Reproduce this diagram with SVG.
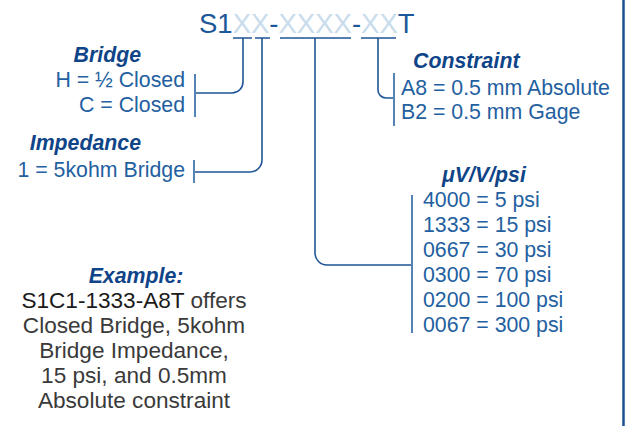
<svg xmlns="http://www.w3.org/2000/svg" width="628" height="426" viewBox="0 0 628 426">
  <style>
    text { font-family: "Liberation Sans", Arial, sans-serif; }
    .title { font-size: 27.5px; fill: #1b5899; }
    .ph { fill: #c9dcec; }
    .hd { font-size: 21.3px; font-weight: bold; font-style: italic; fill: #0f4588; }
    .bd { font-size: 21.3px; fill: #23609f; }
    .ex { font-size: 22.6px; fill: #3a3a3a; text-anchor: middle; }
    .code { fill: #1a1a1a; }
    .conn { fill: none; stroke: #1e5596; stroke-width: 1.6; }
    .brk { fill: none; stroke: #5683b6; stroke-width: 2; }
  </style>
  <rect width="628" height="426" fill="#ffffff"/>

  <g id="title">
    <text class="title" x="199" y="33">S1<tspan class="ph">XX</tspan>-<tspan class="ph">XXXX</tspan>-<tspan class="ph">XX</tspan>T</text>
  </g>

  <g id="connectors">
    <path class="conn" d="M233,38 H252 M255,38 H270 M280,38 H351 M361,38 H396"/>
    <path class="conn" d="M243,38 V82 A11,11 0 0 1 232,93 H195"/>
    <path class="conn" d="M262,38 V160 A12,12 0 0 1 250,172 H194"/>
    <path class="conn" d="M315,38 V253 A12,12 0 0 0 327,265 H412"/>
    <path class="conn" d="M378,38 V90 A8,8 0 0 0 386,98 H394"/>
  </g>

  <g id="bridge">
    <line class="brk" x1="195" y1="74" x2="195" y2="117"/>
    <text class="hd" x="141" y="62" text-anchor="end">Bridge</text>
    <text class="bd" x="185" y="87" text-anchor="end">H = ½ Closed</text>
    <text class="bd" x="185" y="111.5" text-anchor="end">C = Closed</text>
  </g>

  <g id="impedance">
    <line class="brk" x1="194" y1="160" x2="194" y2="183"/>
    <text class="hd" x="141" y="150" text-anchor="end">Impedance</text>
    <text class="bd" x="185" y="177" text-anchor="end">1 = 5kohm Bridge</text>
  </g>

  <g id="constraint">
    <line class="brk" x1="394" y1="73" x2="394" y2="126"/>
    <text class="hd" x="413" y="68">Constraint</text>
    <text class="bd" x="401" y="95">A8 = 0.5 mm Absolute</text>
    <text class="bd" x="401" y="118.5">B2 = 0.5 mm Gage</text>
  </g>

  <g id="sensitivity">
    <line class="brk" x1="412" y1="195" x2="412" y2="333"/>
    <text class="hd" x="442" y="182">μV/V/psi</text>
    <text class="bd" x="423" y="207">4000 = 5 psi</text>
    <text class="bd" x="423" y="232">1333 = 15 psi</text>
    <text class="bd" x="423" y="257">0667 = 30 psi</text>
    <text class="bd" x="423" y="282">0300 = 70 psi</text>
    <text class="bd" x="423" y="307">0200 = 100 psi</text>
    <text class="bd" x="423" y="332">0067 = 300 psi</text>
  </g>

  <g id="example">
    <text class="hd" x="136" y="283" text-anchor="middle">Example:</text>
    <text class="ex" x="134" y="308"><tspan class="code">S1C1-1333-A8T</tspan> offers</text>
    <text class="ex" x="134" y="333">Closed Bridge, 5kohm</text>
    <text class="ex" x="134" y="358">Bridge Impedance,</text>
    <text class="ex" x="134" y="383">15 psi, and 0.5mm</text>
    <text class="ex" x="134" y="408">Absolute constraint</text>
  </g>

  <g id="border">
    <line x1="623.5" y1="0" x2="623.5" y2="426" stroke="#1a4f8f" stroke-width="2.5"/>
  </g>
</svg>
